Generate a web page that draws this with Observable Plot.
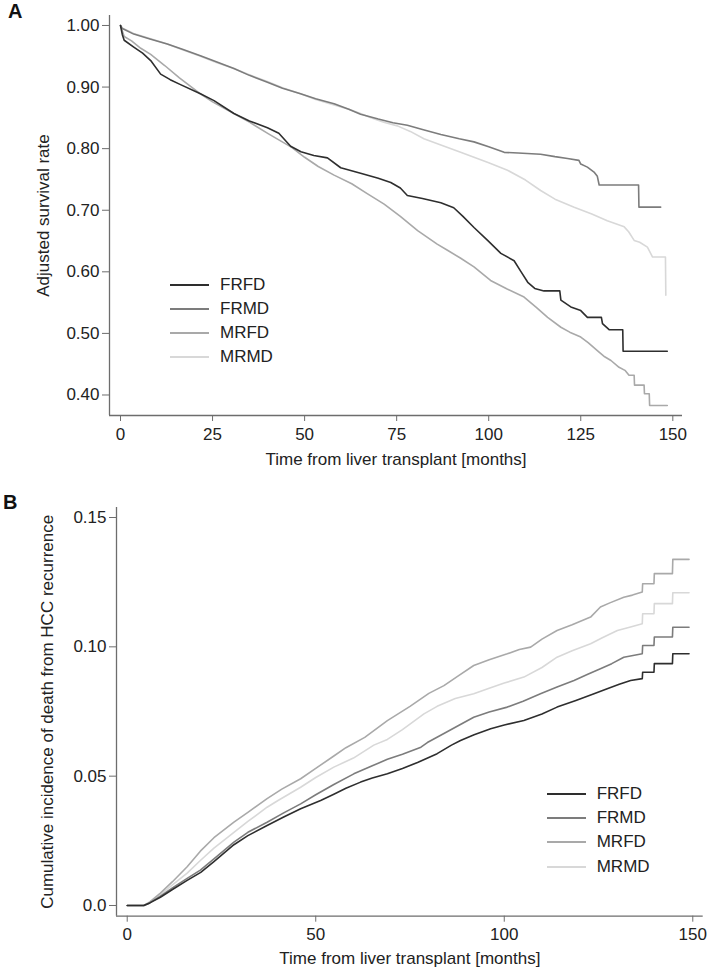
<!DOCTYPE html>
<html>
<head>
<meta charset="utf-8">
<script src="https://cdn.jsdelivr.net/npm/d3@7"></script>
<script src="https://cdn.jsdelivr.net/npm/@observablehq/plot@0.6"></script>
<style>
  body { margin: 0; background: #fff; font-family: "Liberation Sans", Arial, Helvetica, sans-serif; }
  #wrap { position: relative; width: 709px; height: 972px; overflow: hidden; }
  .panel { position: absolute; left: 0; }
  .letter { position: absolute; font-weight: bold; font-size: 20px; line-height: 22px; color: #111; }
  .legend { position: absolute; font-size: 17px; color: #222; }
  .legend .row { position: absolute; left: 0; width: 150px; height: 0; }
  .legend .sw { position: absolute; left: 0; top: -1px; width: 39px; height: 0; border-top: 2px solid #000; }
  .legend .lb { position: absolute; top: -10px; line-height: 20px; white-space: nowrap; }
</style>
</head>
<body>
<div id="wrap"></div>
<script>
// ---------- data ----------
const groups = ["FRFD", "FRMD", "MRFD", "MRMD"];
const shades = ["#2e2e2e", "#7c7c7c", "#a9a9a9", "#d8d8d8"];

const xTicksA = [0, 25, 50, 75, 100, 125, 150];
const yTicksA = [0.4, 0.5, 0.6, 0.7, 0.8, 0.9, 1.0];
const yTickLabelsA = ["0.40", "0.50", "0.60", "0.70", "0.80", "0.90", "1.00"];
const xTicksB = [0, 50, 100, 150];
const yTicksB = [0, 0.05, 0.10, 0.15];
const yTickLabelsB = ["0.0", "0.05", "0.10", "0.15"];

const xTitle = "Time from liver transplant [months]";
const yTitleA = "Adjusted survival rate";
const yTitleB = "Cumulative incidence of death from HCC recurrence";

// Panel A: adjusted survival [month, rate]
const frfdA = [[0,1.000],[0.5,0.985],[1,0.976],[3.6,0.965],[6,0.955],[8.2,0.943],[10.9,0.921],[13.5,0.912],[16.3,0.904],[21.7,0.889],[25.4,0.878],[30.8,0.857],[35,0.845],[39.9,0.834],[43,0.825],[46.2,0.804],[49,0.795],[52.5,0.789],[56.2,0.785],[59.8,0.769],[65.2,0.760],[70,0.752],[73.4,0.745],[76,0.736],[77.9,0.724],[82,0.719],[87,0.712],[90.5,0.704],[93,0.690],[96,0.672],[99.7,0.651],[103.3,0.630],[106.9,0.618],[108.8,0.600],[110.6,0.583],[112.5,0.573],[115,0.569],[119.3,0.569],[119.6,0.554],[122.3,0.543],[125,0.537],[126.8,0.526],[130.6,0.526],[130.9,0.516],[132.7,0.506],[136.4,0.506],[136.5,0.471],[148.5,0.471]];
const frmdA = [[0,1.000],[0.5,0.995],[3.6,0.986],[8,0.978],[12.7,0.970],[17,0.961],[21.7,0.951],[26,0.941],[30.8,0.930],[35,0.919],[39.9,0.908],[44,0.898],[48.9,0.889],[53,0.881],[58,0.873],[62,0.864],[65.2,0.856],[70,0.848],[74,0.842],[77.9,0.838],[82,0.831],[87,0.823],[92,0.816],[96,0.811],[100,0.803],[104.2,0.794],[108,0.793],[114.1,0.791],[118,0.787],[121.4,0.784],[124.5,0.781],[125,0.775],[126.8,0.770],[128.6,0.762],[129.5,0.755],[130,0.741],[140.7,0.741],[140.8,0.705],[146.7,0.705]];
const mrfdA = [[0,1.000],[1,0.982],[3,0.975],[5.5,0.963],[8.2,0.953],[12,0.935],[16,0.915],[21.7,0.889],[25,0.876],[29.3,0.862],[35,0.843],[40.2,0.824],[46.5,0.802],[50,0.786],[53.7,0.771],[58,0.757],[62.8,0.743],[67,0.727],[71.6,0.710],[76,0.690],[80.7,0.667],[86,0.645],[88.8,0.635],[92.4,0.622],[96,0.608],[100.5,0.586],[105,0.572],[109.6,0.559],[113,0.542],[116,0.526],[119.6,0.510],[122,0.502],[125,0.494],[127,0.485],[129.5,0.472],[131.5,0.462],[133.2,0.456],[135.4,0.445],[137,0.440],[138.1,0.432],[139.5,0.432],[139.6,0.416],[142.2,0.416],[142.3,0.402],[143.6,0.402],[143.7,0.383],[148.5,0.383]];
const mrmdA = [[0,1.000],[0.5,0.996],[3.6,0.987],[8,0.979],[12.7,0.970],[17,0.960],[21.7,0.950],[26,0.940],[30.8,0.930],[35,0.920],[39.9,0.909],[44,0.899],[48.9,0.889],[53,0.880],[58,0.871],[62,0.864],[65.2,0.857],[68,0.850],[71.5,0.843],[75.2,0.837],[78.7,0.828],[82.4,0.816],[87,0.806],[92,0.795],[96,0.786],[100,0.777],[105.1,0.765],[110,0.749],[114.1,0.732],[118,0.718],[123.2,0.705],[128,0.694],[132.2,0.683],[136.8,0.673],[138,0.665],[139.5,0.651],[141,0.648],[143.1,0.640],[144.5,0.624],[148,0.624],[148.1,0.562]];

// Panel B: cumulative incidence [month, incidence]
const frfdB = [[0,0],[4.4,0],[6,0.001],[8.8,0.0032],[12,0.0062],[15.9,0.0097],[19.5,0.0128],[23,0.0170],[28.3,0.0235],[32,0.0270],[37.1,0.0309],[41.5,0.0342],[46,0.0374],[51.3,0.0406],[54.8,0.0430],[58,0.0453],[61.9,0.0477],[65,0.0493],[69,0.0509],[73,0.0530],[77,0.0553],[82.2,0.0587],[86,0.0620],[88.4,0.0638],[92,0.0660],[96.4,0.0683],[100,0.0698],[105.2,0.0715],[110,0.0740],[114,0.0767],[119,0.0793],[123.8,0.0819],[127.3,0.0838],[130.5,0.0855],[133.5,0.0870],[136.6,0.0877],[136.7,0.0902],[139.7,0.0902],[139.8,0.0935],[144.6,0.0935],[144.7,0.0973],[149,0.0973]];
const frmdB = [[0,0],[4.4,0],[6,0.001],[8.8,0.0036],[12,0.0068],[15.9,0.0105],[19.4,0.0137],[23,0.0180],[28.3,0.0245],[32,0.0283],[37.1,0.0322],[41.5,0.0358],[46,0.0393],[50,0.0428],[54.8,0.0468],[60.1,0.0509],[65,0.0540],[69,0.0565],[73,0.0585],[77.9,0.0612],[79.6,0.0630],[84,0.0665],[88,0.0697],[91.9,0.0728],[96,0.0748],[100.8,0.0767],[105,0.0790],[109.6,0.0819],[114,0.0845],[118.5,0.0870],[122,0.0893],[125.5,0.0915],[128.5,0.0935],[131.7,0.0960],[136.6,0.0973],[136.7,0.1005],[139.7,0.1005],[139.8,0.1038],[144.6,0.1038],[144.7,0.1076],[149,0.1076]];
const mrfdB = [[0,0],[4.4,0],[6,0.0014],[8.8,0.0048],[12,0.0092],[15.9,0.0150],[19.4,0.0210],[23,0.0262],[28.3,0.0322],[32,0.0360],[37.1,0.0413],[41,0.0450],[46,0.0490],[50,0.0530],[54.8,0.0578],[58,0.0610],[63,0.0650],[69,0.0715],[75,0.0770],[80,0.0820],[84,0.0850],[88,0.0890],[91.9,0.0928],[96,0.0950],[100.8,0.0973],[104,0.0990],[107,0.0999],[110,0.1030],[114,0.1063],[118,0.1085],[122.9,0.1115],[125.5,0.1154],[128,0.1170],[131.7,0.1192],[134,0.1200],[136.6,0.1212],[136.7,0.1244],[139.7,0.1244],[139.8,0.1283],[144.6,0.1283],[144.7,0.1338],[149,0.1338]];
const mrmdB = [[0,0],[4.4,0],[6,0.0012],[8.8,0.0042],[12,0.0080],[15.9,0.0125],[19.4,0.0174],[23,0.0222],[28.3,0.0283],[32,0.0325],[37.1,0.0380],[40,0.0406],[46,0.0457],[50,0.0495],[54.8,0.0535],[60,0.0570],[65.4,0.0620],[69,0.0642],[73,0.0680],[78.7,0.0741],[82.2,0.0770],[87,0.0800],[91.9,0.0819],[96,0.0840],[100,0.0860],[105.2,0.0883],[110,0.0920],[114,0.0960],[118,0.0985],[122.9,0.1012],[126,0.1035],[130,0.1063],[133,0.1075],[136.6,0.1089],[136.7,0.1128],[139.7,0.1128],[139.8,0.1167],[144.6,0.1167],[144.7,0.1209],[149,0.1209]];

// ---------- build ----------
const axisColor = "#6d6d6d";
const fontFamily = '"Liberation Sans", Arial, Helvetica, sans-serif';
const rows = (name, pts) => pts.map(([t, v]) => ({group: name, t, v}));
const dataA = [...rows("MRMD", mrmdA), ...rows("MRFD", mrfdA), ...rows("FRMD", frmdA), ...rows("FRFD", frfdA)];
const dataB = [...rows("MRMD", mrmdB), ...rows("MRFD", mrfdB), ...rows("FRMD", frmdB), ...rows("FRFD", frfdB)];

const xDomA = [-2.99, 152.63];
const yDomA = [0.3667, 1.0162];
const xDomB = [-2.84, 152.76];
const yDomB = [-0.00414, 0.15387];

function makePanel({data, xDom, yDom, xTicks, yTicks, yLabels, width, height, margins, xTitleDy, yTitle, yTitleDx}) {
  return Plot.plot({
    width, height,
    marginLeft: margins[0], marginRight: margins[1], marginTop: margins[2], marginBottom: margins[3],
    style: {fontFamily, fontSize: "17px", color: "#222", background: "#fff", overflow: "visible"},
    x: {domain: xDom},
    y: {domain: yDom},
    color: {domain: groups, range: shades},
    marks: [
      Plot.line(data, {x: "t", y: "v", z: "group", stroke: "group", strokeWidth: 1.6, curve: "linear"}),
      Plot.ruleY([yDom[0]], {stroke: axisColor, strokeWidth: 1.3}),
      Plot.ruleX([xDom[0]], {stroke: axisColor, strokeWidth: 1.3}),
      Plot.axisX({ticks: xTicks, tickFormat: d => String(d), tickSize: 6, tickPadding: 6, fontSize: 17, stroke: axisColor, label: null}),
      Plot.axisY({ticks: yTicks, tickFormat: (d, i) => yLabels[yTicks.indexOf(d)], tickSize: 7, tickPadding: 3, fontSize: 17, stroke: axisColor, label: null}),
      Plot.text([xTitle], {text: d => d, frameAnchor: "bottom", lineAnchor: "top", dy: xTitleDy, fontSize: 17, fill: "#222"}),
      Plot.text([yTitle], {text: d => d, frameAnchor: "left", rotate: -90, textAnchor: "middle", lineAnchor: "middle", dx: yTitleDx, fontSize: 17, fill: "#222"})
    ]
  });
}

const wrap = document.getElementById("wrap");

const plotA = makePanel({data: dataA, xDom: xDomA, yDom: yDomA, xTicks: xTicksA, yTicks: yTicksA, yLabels: yTickLabelsA,
  width: 709, height: 475, margins: [109, 27, 15, 60], xTitleDy: 37, yTitle: yTitleA, yTitleDx: -65.7});
plotA.classList.add("panel"); plotA.style.top = "0px";
wrap.appendChild(plotA);

const plotB = makePanel({data: dataB, xDom: xDomB, yDom: yDomB, xTicks: xTicksB, yTicks: yTicksB, yLabels: yTickLabelsB,
  width: 709, height: 492, margins: [116, 6.3, 27, 56.3], xTitleDy: 36, yTitle: yTitleB, yTitleDx: -69.2});
plotB.classList.add("panel"); plotB.style.top = "480px";
wrap.appendChild(plotB);

// panel letters
function letter(txt, left, top) {
  const d = document.createElement("div");
  d.className = "letter"; d.textContent = txt;
  d.style.left = left + "px"; d.style.top = top + "px";
  wrap.appendChild(d);
}
letter("A", 8, 0);
letter("B", 3, 491);

// legends
function legend(left, top, spacing, textLeft) {
  const lg = document.createElement("div");
  lg.className = "legend";
  lg.style.left = left + "px"; lg.style.top = top + "px";
  groups.forEach((g, i) => {
    const r = document.createElement("div");
    r.className = "row"; r.style.top = (i * spacing) + "px";
    const sw = document.createElement("div");
    sw.className = "sw"; sw.style.borderTopColor = shades[i];
    const lb = document.createElement("div");
    lb.className = "lb"; lb.style.left = textLeft + "px"; lb.textContent = g;
    r.appendChild(sw); r.appendChild(lb);
    lg.appendChild(r);
  });
  wrap.appendChild(lg);
}
legend(170, 285, 23.9, 50);
legend(546.7, 794, 24.2, 50);
</script>
</body>
</html>
